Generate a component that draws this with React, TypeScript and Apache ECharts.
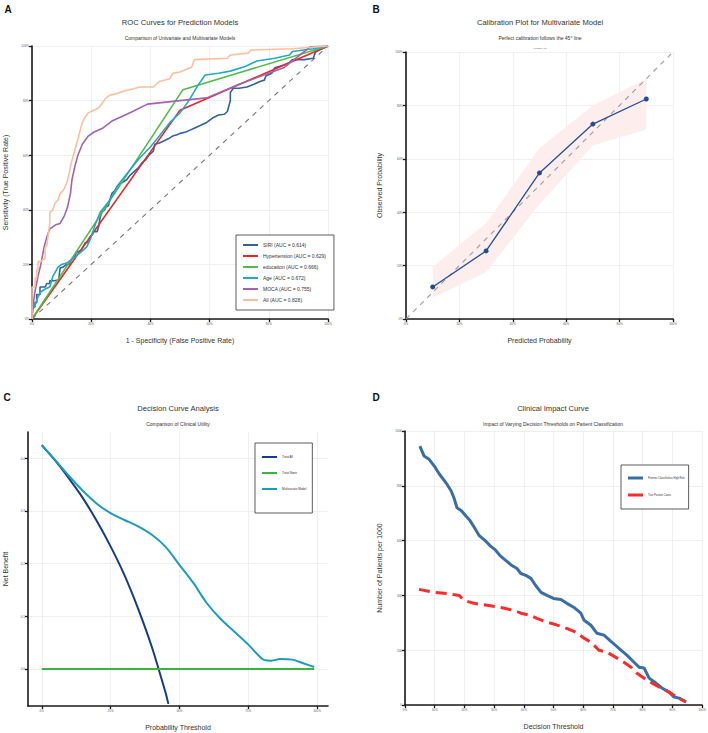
import React, { useEffect, useRef } from "react";
import * as echarts from "echarts";

const FONT = "'Liberation Sans', Arial, Helvetica, sans-serif";

// ---------- Panel A: ROC curves, points are [1 - specificity, sensitivity] ----------
const rocSiri: number[][] = [
  [0, 0], [0, 0.044], [0.01, 0.044], [0.01, 0.06], [0.016, 0.06], [0.016, 0.09], [0.027, 0.09],
  [0.027, 0.117], [0.044, 0.117], [0.05, 0.13], [0.06, 0.13], [0.06, 0.14], [0.075, 0.14],
  [0.09, 0.143], [0.095, 0.187], [0.105, 0.19], [0.117, 0.2], [0.125, 0.2], [0.135, 0.22],
  [0.145, 0.23], [0.15, 0.245], [0.165, 0.25], [0.17, 0.26], [0.18, 0.28], [0.19, 0.28],
  [0.195, 0.3], [0.205, 0.31], [0.207, 0.32], [0.22, 0.32], [0.225, 0.337], [0.23, 0.37],
  [0.235, 0.39], [0.245, 0.4], [0.25, 0.41], [0.258, 0.415], [0.263, 0.436], [0.27, 0.46],
  [0.28, 0.47], [0.287, 0.485], [0.297, 0.497], [0.305, 0.5], [0.32, 0.51], [0.33, 0.525],
  [0.345, 0.54], [0.36, 0.555], [0.37, 0.57], [0.385, 0.585], [0.395, 0.6], [0.41, 0.615],
  [0.415, 0.64], [0.43, 0.645], [0.45, 0.655], [0.46, 0.66], [0.475, 0.67], [0.49, 0.675],
  [0.5, 0.68], [0.52, 0.685], [0.53, 0.69], [0.55, 0.7], [0.57, 0.71], [0.59, 0.72],
  [0.61, 0.736], [0.63, 0.747], [0.65, 0.75], [0.66, 0.76], [0.665, 0.78], [0.67, 0.8],
  [0.67, 0.83], [0.68, 0.845], [0.7, 0.845], [0.726, 0.85], [0.75, 0.86], [0.77, 0.87],
  [0.785, 0.875], [0.79, 0.89], [0.81, 0.9], [0.82, 0.92], [0.835, 0.925], [0.85, 0.93],
  [0.87, 0.94], [0.88, 0.95], [0.92, 0.95], [0.95, 0.955], [0.955, 0.97], [0.96, 0.98],
  [0.98, 0.99], [1, 1],
];
const rocHypertension: number[][] = [[0, 0], [0.5, 0.765], [1, 1]];
const rocEducation: number[][] = [[0, 0], [0.51, 0.84], [1, 1]];
const rocAge: number[][] = [
  [0, 0], [0, 0.03], [0.01, 0.05], [0.02, 0.08], [0.03, 0.1], [0.045, 0.11], [0.06, 0.117],
  [0.07, 0.155], [0.088, 0.19], [0.1, 0.2], [0.117, 0.205], [0.145, 0.227], [0.165, 0.245],
  [0.185, 0.264], [0.2, 0.3], [0.215, 0.35], [0.23, 0.39], [0.263, 0.436], [0.297, 0.5],
  [0.33, 0.545], [0.36, 0.585], [0.4, 0.63], [0.43, 0.67], [0.466, 0.72], [0.5, 0.755],
  [0.53, 0.8], [0.56, 0.855], [0.585, 0.894], [0.63, 0.9], [0.67, 0.908], [0.72, 0.925],
  [0.76, 0.945], [0.82, 0.955], [0.87, 0.967], [0.88, 0.98], [0.95, 0.99], [1, 1],
];
const rocMoca: number[][] = [
  [0, 0], [0.005, 0.06], [0.01, 0.1], [0.02, 0.155], [0.03, 0.2], [0.04, 0.26], [0.05, 0.3],
  [0.06, 0.33], [0.08, 0.345], [0.095, 0.35], [0.11, 0.38], [0.12, 0.41], [0.13, 0.46],
  [0.135, 0.51], [0.145, 0.56], [0.155, 0.6], [0.17, 0.64], [0.19, 0.67], [0.21, 0.685],
  [0.24, 0.7], [0.27, 0.725], [0.3, 0.74], [0.34, 0.76], [0.39, 0.787], [0.5, 0.8],
  [0.59, 0.81], [0.7, 0.86], [0.85, 0.92], [0.94, 0.997], [1, 1],
];
const rocAll: number[][] = [
  [0, 0], [0, 0.117], [0.01, 0.117], [0.01, 0.15], [0.016, 0.15], [0.016, 0.18], [0.02, 0.18],
  [0.02, 0.21], [0.03, 0.21], [0.04, 0.22], [0.044, 0.22], [0.044, 0.26], [0.05, 0.27],
  [0.055, 0.31], [0.06, 0.35], [0.06, 0.39], [0.07, 0.4], [0.078, 0.425], [0.088, 0.436],
  [0.095, 0.46], [0.105, 0.47], [0.11, 0.48], [0.118, 0.5], [0.125, 0.53], [0.13, 0.56],
  [0.14, 0.6], [0.145, 0.62], [0.15, 0.64], [0.16, 0.68], [0.165, 0.7], [0.17, 0.72],
  [0.18, 0.74], [0.19, 0.755], [0.2, 0.76], [0.22, 0.77], [0.23, 0.78], [0.24, 0.795],
  [0.25, 0.81], [0.264, 0.82], [0.29, 0.827], [0.31, 0.835], [0.33, 0.84], [0.365, 0.85],
  [0.41, 0.85], [0.42, 0.86], [0.43, 0.87], [0.466, 0.88], [0.47, 0.89], [0.477, 0.9],
  [0.5, 0.905], [0.54, 0.923], [0.545, 0.94], [0.55, 0.95], [0.66, 0.955], [0.67, 0.967],
  [0.73, 0.974], [0.74, 0.985], [0.88, 0.99], [1, 1],
];
const rocModels = ["SIRI", "Hypertension", "education", "Age", "MOCA", "All"];
const rocAuc = [0.614, 0.629, 0.666, 0.672, 0.755, 0.828];
const rocCurves = [rocSiri, rocHypertension, rocEducation, rocAge, rocMoca, rocAll];
const rocColors = ["#3262a3", "#ee2424", "#55bb48", "#22a9c8", "#a064b4", "#fdbf9c"];
const chanceLine: number[][] = [[0, 0], [1, 1]];

// ---------- Panel B: calibration ----------
const calPredicted = [0.1, 0.3, 0.5, 0.7, 0.9];
const calObserved = [0.12, 0.255, 0.547, 0.73, 0.824];
const calLower = [0.08, 0.175, 0.43, 0.65, 0.71];
const calUpper = [0.195, 0.36, 0.64, 0.8, 0.9];

// ---------- Panel C: decision curves, [threshold, net benefit] ----------
const dcaTreatAll: number[][] = [
  [0, 0.425], [0.05, 0.395], [0.1, 0.361], [0.15, 0.324], [0.2, 0.281], [0.25, 0.233],
  [0.3, 0.179], [0.35, 0.115], [0.4, 0.042], [0.45, -0.045], [0.46, -0.066],
];
const dcaTreatNone: number[][] = [[0, 0], [0.99, 0]];
const dcaModel: number[][] = [
  [0, 0.425], [0.05, 0.396], [0.1, 0.366], [0.15, 0.338], [0.2, 0.314], [0.25, 0.296],
  [0.3, 0.283], [0.35, 0.271], [0.4, 0.255], [0.45, 0.232], [0.5, 0.198], [0.55, 0.164],
  [0.6, 0.125], [0.65, 0.095], [0.7, 0.071], [0.75, 0.047], [0.78, 0.03], [0.81, 0.017],
  [0.835, 0.016], [0.865, 0.019], [0.91, 0.018], [0.95, 0.011], [0.99, 0.004],
];

// ---------- Panel D: clinical impact, [threshold, patients per 1000] ----------
const cicHighRisk: number[][] = [
  [0.05, 945], [0.064, 909], [0.08, 898], [0.098, 873], [0.115, 844], [0.138, 811],
  [0.155, 782], [0.165, 756], [0.175, 720], [0.19, 709], [0.205, 690], [0.219, 673],
  [0.235, 645], [0.25, 618], [0.27, 600], [0.286, 582], [0.305, 565], [0.32, 545],
  [0.34, 527], [0.36, 509], [0.377, 498], [0.39, 480], [0.407, 473], [0.424, 462],
  [0.44, 436], [0.458, 411], [0.478, 400], [0.5, 389], [0.525, 385], [0.545, 371],
  [0.569, 356], [0.592, 335], [0.603, 309], [0.626, 291], [0.646, 262], [0.67, 255],
  [0.697, 229], [0.727, 200], [0.747, 182], [0.771, 156], [0.788, 138], [0.805, 135],
  [0.822, 98], [0.845, 80], [0.865, 62], [0.889, 47], [0.906, 29], [0.923, 25], [0.946, 11],
];
const cicTruePositive: number[][] = [
  [0.047, 422], [0.098, 411], [0.141, 407], [0.182, 400], [0.199, 382], [0.232, 371],
  [0.276, 364], [0.323, 356], [0.367, 345], [0.39, 335], [0.424, 327], [0.444, 316],
  [0.478, 302], [0.502, 295], [0.535, 284], [0.569, 269], [0.603, 244], [0.626, 229],
  [0.653, 200], [0.68, 193], [0.714, 171], [0.737, 156], [0.761, 138], [0.781, 116],
  [0.805, 98], [0.832, 80], [0.862, 62], [0.889, 47], [0.916, 29], [0.946, 11],
];

// ---------- tick values ----------
const ticksFifths = [0, 0.2, 0.4, 0.6, 0.8, 1];
const ticksQuarters = [0, 0.25, 0.5, 0.75, 1];
const ticksTenths = [0, 0.1, 0.2, 0.3, 0.4, 0.5, 0.6, 0.7, 0.8, 0.9, 1];
const ticksNetBenefit = [0, 0.1, 0.2, 0.3, 0.4];
const ticksPatients = [0, 200, 400, 600, 800, 1000];

const pct = (v: number) => `${Math.round(v * 100)}%`;

function axis(
  gridIndex: number,
  min: number,
  max: number,
  ticks: number[],
  fmt: (v: number) => string,
  name: string,
  nameGap: number
) {
  return {
    type: "value",
    gridIndex,
    min,
    max,
    name,
    nameLocation: "middle",
    nameGap,
    nameTextStyle: { fontSize: 7, color: "#333", fontFamily: FONT },
    axisLine: { show: true, onZero: false, lineStyle: { color: "#1a1a1a", width: 1.6 } },
    axisTick: {
      show: true,
      length: 3,
      customValues: ticks,
      lineStyle: { color: "#1a1a1a", width: 1.3 },
    },
    axisLabel: {
      show: true,
      customValues: ticks,
      formatter: fmt,
      fontSize: 3,
      color: "#555",
      margin: 3,
      fontFamily: FONT,
    },
    splitLine: { show: true, lineStyle: { color: "#ebebeb", width: 0.8 } },
  };
}

function label(
  x: number,
  y: number,
  text: string,
  fontSize: number,
  opts: { bold?: boolean; align?: string; color?: string } = {}
) {
  return {
    type: "text",
    x,
    y,
    silent: true,
    style: {
      text,
      fontSize,
      fontFamily: FONT,
      fontWeight: opts.bold ? "bold" : "normal",
      fill: opts.color ?? "#333",
      align: opts.align ?? "center",
      verticalAlign: "middle",
    },
  };
}

function legend(
  left: number,
  top: number,
  names: string[],
  fontSize: number,
  itemGap: number,
  iconHeight: number,
  padding: number[]
) {
  return {
    show: true,
    orient: "vertical",
    left,
    top,
    data: names,
    icon: "rect",
    itemWidth: 15,
    itemHeight: iconHeight,
    itemGap,
    padding,
    selectedMode: false,
    borderColor: "#333",
    borderWidth: 0.8,
    backgroundColor: "#fff",
    textStyle: { fontSize, lineHeight: 6, color: "#333", fontFamily: FONT },
  };
}

const rocNames = rocModels.map((m, i) => `${m} (AUC = ${rocAuc[i].toFixed(3)})`);
const dcaNames = ["Treat All", "Treat None", "Multivariate Model"];
const cicNames = ["Patients Classified as High Risk", "True Positive Cases"];

function buildOption() {
  const line = (
    name: string | undefined,
    axisIdx: number,
    data: number[][],
    color: string,
    width: number,
    extra: Record<string, unknown> = {}
  ) => ({
    type: "line",
    name,
    xAxisIndex: axisIdx,
    yAxisIndex: axisIdx,
    data,
    symbol: "none",
    showSymbol: false,
    silent: true,
    lineStyle: { color, width },
    itemStyle: { color },
    ...extra,
  });

  const series: any[] = [];

  // Panel A
  series.push(
    line(undefined, 0, chanceLine, "#777", 1.1, {
      lineStyle: { color: "#777", width: 1.1, type: [5, 5] },
    })
  );
  rocCurves.forEach((curve, i) => {
    series.push(line(rocNames[i], 0, curve, rocColors[i], 1.6));
  });

  // Panel B: confidence ribbon drawn as one polygon through the axis scales
  series.push({
    type: "custom",
    xAxisIndex: 1,
    yAxisIndex: 1,
    silent: true,
    data: [[calPredicted[0], calLower[0]]],
    encode: { x: 0, y: 1 },
    renderItem: (_params: any, api: any) => {
      const lowerEdge = calPredicted.map((x, i) => api.coord([x, calLower[i]]));
      const upperEdge = calPredicted
        .map((x, i) => api.coord([x, calUpper[i]]))
        .reverse();
      return {
        type: "polygon",
        shape: { points: lowerEdge.concat(upperEdge) },
        style: { fill: "#fdeeed", stroke: "none" },
      };
    },
    z: 1,
  });
  series.push(
    line(undefined, 1, chanceLine, "#9a9a9a", 1.1, {
      lineStyle: { color: "#9a9a9a", width: 1.1, type: [5, 5] },
      z: 2,
    })
  );
  series.push(
    line(undefined, 1, calPredicted.map((x, i) => [x, calObserved[i]]), "#1f4e96", 1.3, {
      symbol: "circle",
      showSymbol: true,
      symbolSize: 5,
      z: 3,
    })
  );

  // Panel C
  series.push(line(dcaNames[0], 2, dcaTreatAll, "#123d8a", 2, { smooth: 0.2 }));
  series.push(line(dcaNames[1], 2, dcaTreatNone, "#3bb441", 2));
  series.push(line(dcaNames[2], 2, dcaModel, "#1b9dbb", 2, { smooth: 0.3 }));

  // Panel D
  series.push(line(cicNames[0], 3, cicHighRisk, "#3a6ea8", 3));
  series.push(
    line(cicNames[1], 3, cicTruePositive, "#ff2b2b", 3, {
      lineStyle: { color: "#ff2b2b", width: 3, type: [11, 6] },
    })
  );

  return {
    animation: false,
    backgroundColor: "#fff",
    textStyle: { fontFamily: FONT },
    grid: [
      { left: 32, top: 46, width: 296, height: 273, outerBoundsMode: "none" },
      { left: 406, top: 52, width: 267, height: 267, outerBoundsMode: "none" },
      { left: 28, top: 432, width: 300, height: 274, outerBoundsMode: "none" },
      { left: 405, top: 431, width: 297, height: 274, outerBoundsMode: "none" },
    ],
    xAxis: [
      axis(0, 0, 1, ticksFifths, pct, "1 - Specificity (False Positive Rate)", 18),
      axis(1, 0, 1, ticksFifths, pct, "Predicted Probability", 18),
      axis(2, -0.05, 1.04, ticksQuarters, pct, "Probability Threshold", 18),
      axis(3, 0, 1, ticksTenths, pct, "Decision Threshold", 18),
    ],
    yAxis: [
      axis(0, 0, 1, ticksFifths, pct, "Sensitivity (True Positive Rate)", 23),
      axis(1, 0, 1, ticksFifths, pct, "Observed Probability", 23),
      axis(2, -0.07, 0.45, ticksNetBenefit, (v: number) => v.toFixed(1), "Net Benefit", 19),
      axis(3, 0, 1000, ticksPatients, (v: number) => `${v}`, "Number of Patients per 1000", 22),
    ],
    legend: [
      legend(236, 235, rocNames, 5, 5, 2, [7, 8, 7, 7]),
      legend(255, 443, dcaNames, 3, 10, 2, [11, 6, 21, 7]),
      legend(621, 465, cicNames, 2.6, 11, 3, [10, 4, 11, 7]),
    ],
    graphic: [
      label(8, 9, "A", 10, { bold: true, color: "#111" }),
      label(376, 9, "B", 10, { bold: true, color: "#111" }),
      label(7, 397, "C", 10, { bold: true, color: "#111" }),
      label(376, 397, "D", 10, { bold: true, color: "#111" }),
      label(180, 22, "ROC Curves for Prediction Models", 7.6),
      label(180, 38, "Comparison of Univariate and Multivariate Models", 5),
      label(540, 22, "Calibration Plot for Multivariate Model", 7.6),
      label(540, 38, "Perfect calibration follows the 45° line", 5),
      label(540, 48, "Logistic_cal", 2.5, { color: "#666" }),
      label(178, 408, "Decision Curve Analysis", 7.6),
      label(178, 424, "Comparison of Clinical Utility", 5),
      label(553, 408, "Clinical Impact Curve", 7.6),
      label(553, 424, "Impact of Varying Decision Thresholds on Patient Classification", 5),
    ],
    series,
  };
}

export default function App() {
  const ref = useRef<HTMLDivElement>(null);
  useEffect(() => {
    if (!ref.current) return;
    const chart = echarts.init(ref.current, undefined, { renderer: "svg" });
    chart.setOption(buildOption() as any);
    return () => chart.dispose();
  }, []);
  return (
    <div
      ref={ref}
      style={{ position: "fixed", left: 0, top: 0, width: 708, height: 733, background: "#fff" }}
    />
  );
}
